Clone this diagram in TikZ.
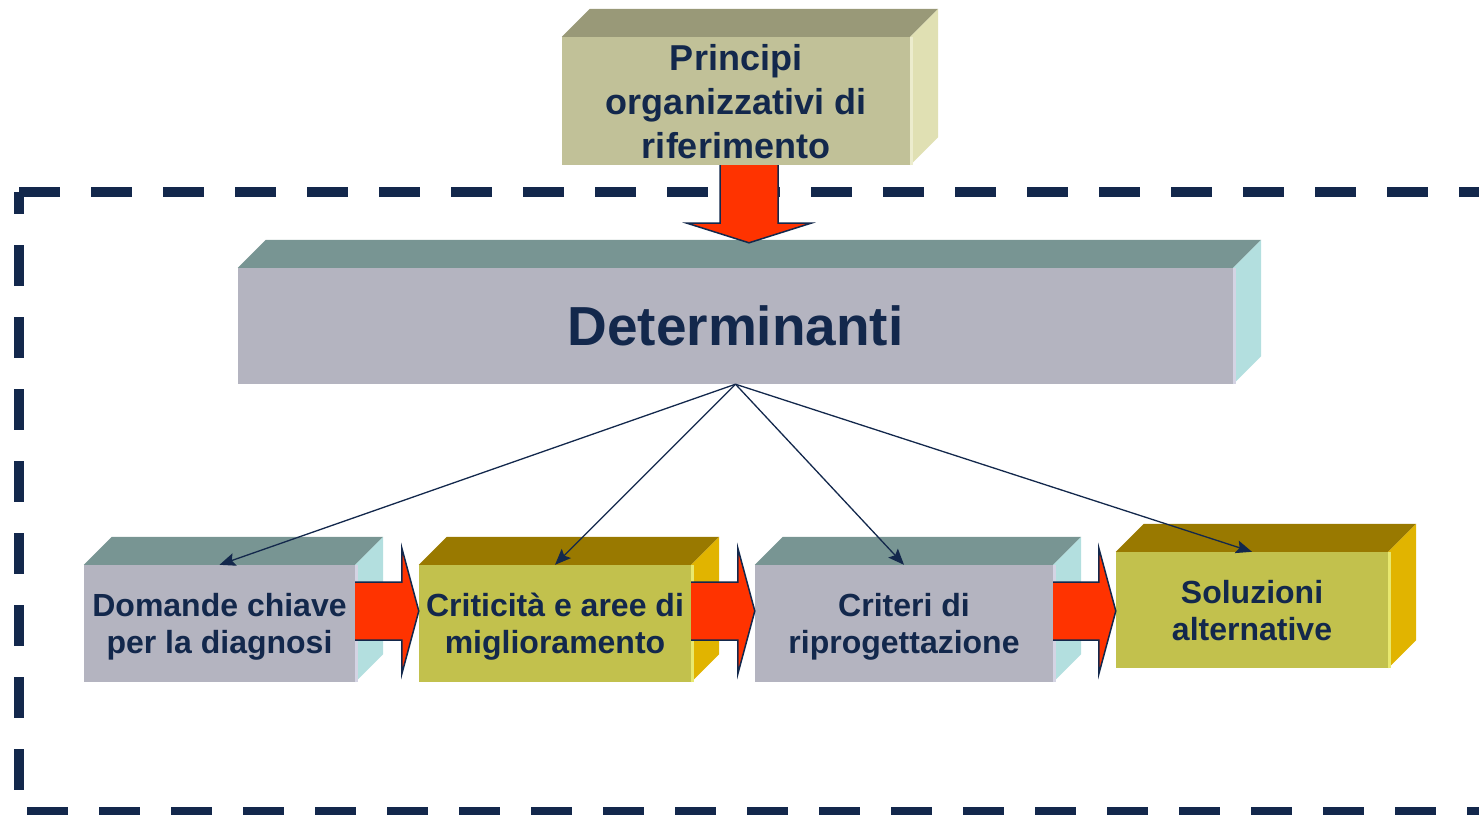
\documentclass[tikz,border=0pt]{standalone}
\usepackage{fontspec}
\setmainfont{Liberation Sans}
\usetikzlibrary{arrows.meta,calc}
\definecolor{blu}{RGB}{19,40,76}
\definecolor{rosso}{RGB}{255,51,0}
\definecolor{grigioF}{RGB}{180,180,192}
\definecolor{grigioT}{RGB}{120,149,147}
\definecolor{grigioS}{RGB}{179,223,223}
\definecolor{grigioL}{RGB}{212,212,228}
\definecolor{olivaF}{RGB}{194,193,77}
\definecolor{olivaT}{RGB}{153,121,0}
\definecolor{olivaS}{RGB}{225,180,0}
\definecolor{olivaL}{RGB}{232,232,110}
\definecolor{principiF}{RGB}{193,193,152}
\definecolor{principiT}{RGB}{153,153,120}
\definecolor{principiS}{RGB}{224,224,179}
\definecolor{principiL}{RGB}{236,236,205}

\begin{document}
\begin{tikzpicture}[x=1pt, y=-1pt,
    box/.style={inner sep=0pt, align=center, text=blu, text depth=-10pt, font=\bfseries\fontsize{32}{37}\selectfont},
    blocco/.style={fill=rosso, draw=blu, line width=1.5pt, line join=miter},
    cornice/.style={draw=blu, line width=10pt, dash pattern=on 41pt off 31pt},
    legame/.style={draw=blu, line width=1.3pt, -{Stealth[length=16pt, width=13pt, inset=3pt]}}]

    \useasboundingbox (0,0) rectangle (1479,814);

    % cornice tratteggiata
    \draw[cornice, dash phase=19pt] (19,192) -- (19,812);
    \draw[cornice] (19,192) -- (1500,192);
    \draw[cornice] (27,812) -- (1500,812);

    \node[box, fill=principiF, minimum width=348pt, minimum height=128pt, text depth=-2pt,
          font=\bfseries\fontsize{36}{44}\selectfont] (principi) at (736,101) {Principi\\organizzativi di\\riferimento};
    \node[box, fill=grigioF, minimum width=995pt, minimum height=116pt, text depth=-4pt,
          font=\bfseries\fontsize{55}{60}\selectfont] (determinanti) at (735.5,326) {Determinanti};

    \node[box, fill=grigioF, minimum width=271pt, minimum height=117pt] (domande) at (219.5,623.5) {Domande chiave\\per la diagnosi};
    \node[box, fill=olivaF, minimum width=272pt, minimum height=117pt] (criticita) at (555,623.5) {Criticità e aree di\\miglioramento};
    \node[box, fill=grigioF, minimum width=298pt, minimum height=117pt] (criteri) at (904,623.5) {Criteri di\\riprogettazione};
    \node[box, fill=olivaF, minimum width=272pt, minimum height=116pt] (soluzioni) at (1252,610) {Soluzioni\\alternative};

    % facce superiori e laterali
    \foreach \b/\ct/\cs/\cl in {principi/principiT/principiS/principiL, determinanti/grigioT/grigioS/grigioL,
            domande/grigioT/grigioS/grigioL, criticita/olivaT/olivaS/olivaL,
            criteri/grigioT/grigioS/grigioL, soluzioni/olivaT/olivaS/olivaL}{
        \fill[\ct] (\b.north west) -- ++(28,-28) -- ($(\b.north east)+(28,-28)$) -- (\b.north east) -- cycle;
        \fill[\cs] (\b.north east) -- ++(28,-28) -- ($(\b.south east)+(28,-28)$) -- (\b.south east) -- cycle;
        \draw[\cl, line width=3pt] ($(\b.north east)+(1.5,0)$) -- ($(\b.south east)+(1.5,0)$);
    }

    % frecce rosse
    \coordinate (colonna) at (749,0);
    \coordinate (riga) at (0,611);

    \draw[blocco] ($(principi.south -| colonna)+(-29,0)$) -- ++(0,58) -- ++(-33,0)
        -- ($(determinanti.north -| colonna)+(0,-25)$) -- ($(principi.south -| colonna)+(62,58)$)
        -- ++(-33,0) -- ($(principi.south -| colonna)+(29,0)$);

    \foreach \a/\b in {domande/criticita, criticita/criteri, criteri/soluzioni}{
        \draw[blocco] ($(\a.east |- riga)+(0,-29)$) -- ($(\b.west |- riga)+(-17,-29)$) -- ++(0,-34)
            -- (\b.west |- riga) -- ($(\b.west |- riga)+(-17,63)$) -- ++(0,-34) -- ($(\a.east |- riga)+(0,29)$);
    }

    % legami
    \foreach \b in {domande, criticita, criteri, soluzioni}
        \draw[legame] (determinanti.south) -- (\b.north);

\end{tikzpicture}
\end{document}
